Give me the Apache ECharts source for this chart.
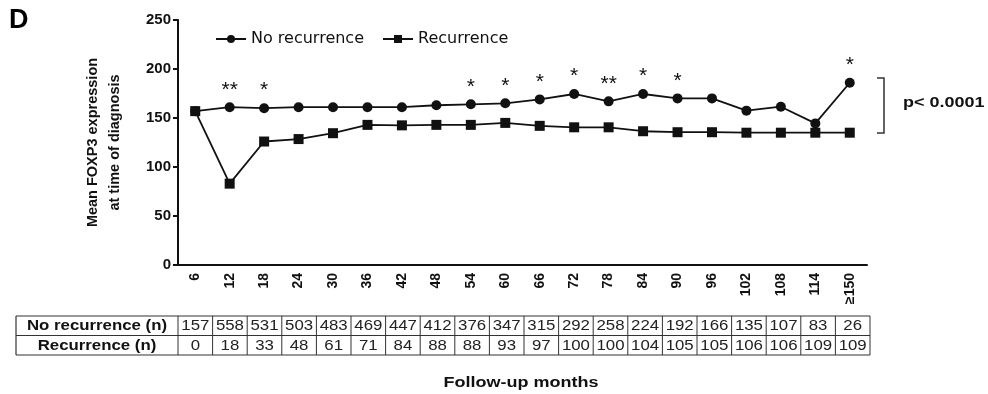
<!DOCTYPE html>
<html>
<head>
<meta charset="utf-8">
<script src="https://cdn.jsdelivr.net/npm/echarts@6/dist/echarts.min.js"></script>
<style>
  html, body { margin: 0; padding: 0; background: #fff; }
  #chart { width: 988px; height: 394px; }
</style>
</head>
<body>
<div id="chart"></div>
<script>
// Follow-up months (category axis)
const months = ['6', '12', '18', '24', '30', '36', '42', '48', '54', '60', '66', '72', '78', '84', '90', '96', '102', '108', '114', '≥150'];

// Mean FOXP3 expression at time of diagnosis
const noRecurrence = [157, 161, 160, 161, 161, 161, 161, 163, 164, 165, 169, 174.5, 167, 174.5, 170, 170, 157.5, 161.5, 144.5, 186];
const recurrence   = [157, 83, 126, 128.5, 134.5, 143, 142.5, 143, 143, 145, 142, 140.5, 140.5, 136.5, 135.5, 135.5, 135, 135, 135, 135];

// Significance markers for the no-recurrence group
const significance = ['', '**', '*', '', '', '', '', '', '*', '*', '*', '*', '**', '*', '*', '', '', '', '', '*'];

// Patients at risk
const nNoRecurrence = [157, 558, 531, 503, 483, 469, 447, 412, 376, 347, 315, 292, 258, 224, 192, 166, 135, 107, 83, 26];
const nRecurrence   = [0, 18, 33, 48, 61, 71, 84, 88, 88, 93, 97, 100, 100, 104, 105, 105, 106, 106, 109, 109];
const tableRows = ['No recurrence (n)', 'Recurrence (n)'];

const yTicks = { min: 0, max: 250, interval: 50 };

const FONT = 'Liberation Sans, Arial, Helvetica, sans-serif';
const GRID = { left: 178, right: 121, top: 20, bottom: 129 };
const WIDE = 1.2; // horizontal stretch used for free-standing text

const chart = echarts.init(document.getElementById('chart'), null, { renderer: 'canvas' });

// text element drawn at (x, y) with a horizontal stretch
function wideText(text, x, y, font, align, fill) {
  return {
    type: 'text', silent: true,
    x: x, y: y, scaleX: WIDE, scaleY: 1,
    style: {
      text: text, x: 0, y: 0,
      align: align || 'center', verticalAlign: 'middle',
      font: font, fill: fill || '#111'
    }
  };
}

function tableGraphics() {
  const els = [];
  const x0 = 16, xData = GRID.left, xEnd = 988 - GRID.right + 3;
  const yTop = 316, rowH = 19.5;
  const colW = (xEnd - xData) / months.length;
  const rows = [nNoRecurrence, nRecurrence];
  const line = (x1, y1, x2, y2, w) => ({
    type: 'line', shape: { x1, y1, x2, y2 },
    style: { stroke: '#333', lineWidth: w || 1 }, silent: true
  });
  els.push(line(x0, yTop, xEnd, yTop, 1.2));
  els.push(line(x0, yTop + rowH, xEnd, yTop + rowH, 1));
  els.push(line(x0, yTop + 2 * rowH, xEnd, yTop + 2 * rowH, 1.2));
  els.push(line(x0, yTop, x0, yTop + 2 * rowH, 1.2));
  els.push(line(xData, yTop, xData, yTop + 2 * rowH, 1));
  for (let i = 1; i <= months.length; i++) {
    const x = xData + i * colW;
    els.push(line(x, yTop, x, yTop + 2 * rowH, 1));
  }
  rows.forEach((vals, r) => {
    const cy = yTop + rowH * (r + 0.5) + 0.5;
    els.push(wideText(tableRows[r], (x0 + xData) / 2, cy, 'bold 14px ' + FONT, 'center', '#111'));
    vals.forEach((v, i) => {
      els.push(wideText(String(v), xData + (i + 0.5) * colW, cy, '14px ' + FONT, 'center', '#222'));
    });
  });
  return els;
}

const option = {
  backgroundColor: '#fff',
  animation: false,
  textStyle: { fontFamily: FONT },
  grid: { left: GRID.left, right: GRID.right, top: GRID.top, bottom: GRID.bottom },
  legend: {
    left: 210, top: 26,
    itemWidth: 30, itemHeight: 10, itemGap: 18,
    textStyle: { fontSize: 16, color: '#111', fontFamily: 'DejaVu Sans, sans-serif' },
    data: ['No recurrence', 'Recurrence']
  },
  xAxis: {
    type: 'category',
    data: months,
    boundaryGap: true,
    axisLine: { lineStyle: { color: '#111', width: 2 } },
    axisTick: { alignWithLabel: true, length: 5, lineStyle: { color: '#111', width: 2 } },
    axisLabel: {
      rotate: 90, margin: 8, color: '#111',
      fontWeight: 'bold', fontSize: 14, fontFamily: FONT
    }
  },
  yAxis: {
    type: 'value',
    min: yTicks.min, max: yTicks.max, interval: yTicks.interval,
    name: 'Mean FOXP3 expression\nat time of diagnosis',
    nameLocation: 'middle', nameGap: 52, nameRotate: 90,
    nameTextStyle: { fontWeight: 'bold', fontSize: 14.5, color: '#111', lineHeight: 22, fontFamily: FONT },
    splitLine: { show: false },
    axisLine: { show: true, lineStyle: { color: '#111', width: 2 } },
    axisTick: { show: true, length: 5, lineStyle: { color: '#111', width: 2 } },
    axisLabel: { color: '#111', fontWeight: 'bold', fontSize: 15, margin: 7, fontFamily: FONT }
  },
  series: [
    {
      name: 'Recurrence',
      type: 'line',
      data: recurrence,
      symbol: 'rect', symbolSize: 10,
      itemStyle: { color: '#111' },
      lineStyle: { color: '#111', width: 1.8 },
      z: 2
    },
    {
      name: 'No recurrence',
      type: 'line',
      data: noRecurrence.map((v, i) => ({
        value: v,
        label: {
          show: significance[i] !== '',
          formatter: significance[i],
          position: 'top', distance: 2,
          fontSize: 21, color: '#111', fontFamily: FONT
        }
      })),
      symbol: 'circle', symbolSize: 10,
      itemStyle: { color: '#111' },
      lineStyle: { color: '#111', width: 1.8 },
      z: 3
    }
  ],
  graphic: [
    {
      type: 'text', left: 9, top: 7, silent: true,
      style: { text: 'D', font: 'bold 27px ' + FONT, fill: '#000' }
    },
    {
      type: 'polyline', silent: true,
      shape: { points: [[877, 78], [884, 78], [884, 133], [877, 133]] },
      style: { stroke: '#333', lineWidth: 1.5, fill: null }
    },
    wideText('p< 0.0001', 903, 103, 'bold 15px ' + FONT, 'left', '#111'),
    wideText('Follow-up months', 521, 383, 'bold 15px ' + FONT, 'center', '#111')
  ].concat(tableGraphics())
};

chart.setOption(option);
</script>
</body>
</html>
